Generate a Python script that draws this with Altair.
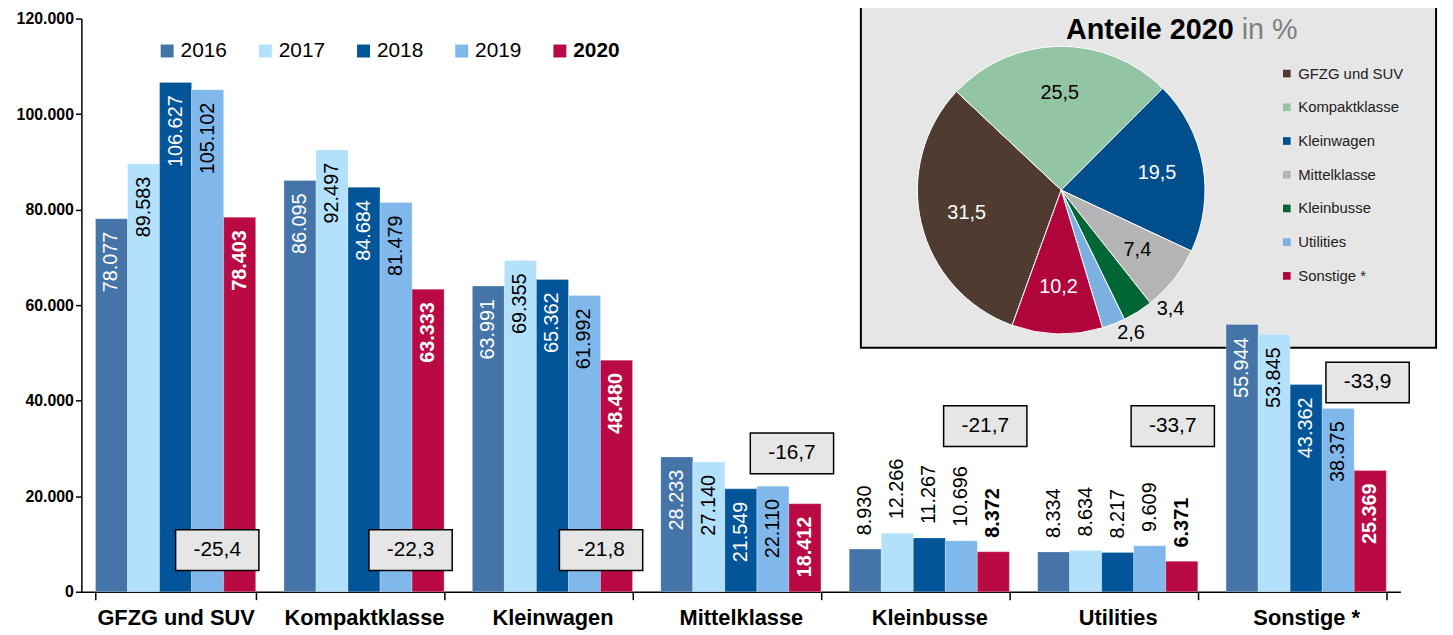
import altair as alt
import pandas as pd

FONT = "Liberation Sans"

# ---------------- data ----------------
categories = ["GFZG und SUV", "Kompaktklasse", "Kleinwagen", "Mittelklasse",
              "Kleinbusse", "Utilities", "Sonstige *"]
years = ["2016", "2017", "2018", "2019", "2020"]
v2016 = [78077, 86095, 63991, 28233, 8930, 8334, 55944]
v2017 = [89583, 92497, 69355, 27140, 12266, 8634, 53845]
v2018 = [106627, 84684, 65362, 21549, 11267, 8217, 43362]
v2019 = [105102, 81479, 61992, 22110, 10696, 9609, 38375]
v2020 = [78403, 63333, 48480, 18412, 8372, 6371, 25369]
year_colors = ["#4575A8", "#B3E0FA", "#03559A", "#80B8EC", "#BA0A44"]

changes = ["-25,4", "-22,3", "-21,8", "-16,7", "-21,7", "-33,7", "-33,9"]
# annotation box centre: category units (band i spans i..i+1) and y value
change_x = [0.721, 1.747, 2.758, 3.771, 4.797, 5.792, 6.826]
change_y = [8720, 8720, 8720, 28960, 34670, 34670, 43800]

pie_values = [31.5, 25.5, 19.5, 7.4, 3.4, 2.6, 10.2]
pie_labels = ["31,5", "25,5", "19,5", "7,4", "3,4", "2,6", "10,2"]
pie_colors = ["#4F3B30", "#93C4A4", "#004F8C", "#B4B4B4", "#006633", "#7BB0E0", "#B0063C"]

# ---------------- tables ----------------
rows = []
for yr, vals in zip(years, [v2016, v2017, v2018, v2019, v2020]):
    for c, v in zip(categories, vals):
        rows.append({"cat": c, "year": yr, "value": v,
                     "label": f"{v:,}".replace(",", ".")})
bars_df = pd.DataFrame(rows)

chg_df = pd.DataFrame({"cat": categories, "txt": changes, "bx": change_x, "by": change_y})

pie_df = pd.DataFrame({"cat": categories, "share": pie_values, "lab": pie_labels,
                       "idx": list(range(len(categories)))})

W, H = 1330, 578

x_scale = alt.Scale(paddingInner=0.15, paddingOuter=0.075)
x_axis = alt.Axis(labelFontSize=22, labelFontWeight="bold", labelColor="black",
                  labelAngle=0, labelPadding=8, tickBand="extent", tickSize=8,
                  tickColor="black", domainColor="black", domainWidth=1.5,
                  tickWidth=1.5, grid=False)
x_enc = alt.X("cat:N", sort=categories, title=None, scale=x_scale, axis=x_axis)
xo = alt.XOffset("year:N", sort=years)
y_scale = alt.Scale(domain=[0, 120000], nice=False)
y_axis = alt.Axis(values=[0, 20000, 40000, 60000, 80000, 100000, 120000],
                  labelExpr="replace(format(datum.value, ','), ',', '.')",
                  labelFontSize=16, labelFontWeight="bold", labelColor="black",
                  tickColor="black", domainColor="black", domainWidth=1.5,
                  tickWidth=1.5, tickSize=6, grid=False)
y_enc = alt.Y("value:Q", title=None, scale=y_scale, axis=y_axis)

bars = alt.Chart(bars_df).mark_bar(stroke="white", strokeWidth=0.4, strokeOpacity=0.6).encode(
    x=x_enc, xOffset=xo, y=y_enc,
    color=alt.Color("year:N", sort=years,
                    scale=alt.Scale(domain=years, range=year_colors),
                    legend=alt.Legend(orient="none", legendX=76, legendY=22,
                                      direction="horizontal", title=None,
                                      symbolType="square", symbolSize=170,
                                      symbolStrokeWidth=0, labelFontSize=21,
                                      labelColor="black", columnPadding=28,
                                      labelOffset=3,
                                      labelFontWeight=alt.ExprRef(
                                          "datum.label == '2020' ? 'bold' : 'normal'")))
)

white_test = "datum.year == '2016' || datum.year == '2018' || datum.year == '2020'"

def lab(filter_expr, align, dx, bold, color):
    return alt.Chart(bars_df).transform_filter(filter_expr).mark_text(
        angle=270, align=align, baseline="middle", dx=dx, fontSize=20,
        fontWeight="bold" if bold else "normal").encode(
        x=x_enc, xOffset=xo, y=y_enc, text="label:N", color=color)

in_color = alt.condition(white_test, alt.value("white"), alt.value("black"))
lab_in = lab("datum.value >= 15000 && datum.year != '2020'", "right", -13, False, in_color)
lab_in20 = lab("datum.value >= 15000 && datum.year == '2020'", "right", -13, True, alt.value("white"))
lab_out = lab("datum.value < 15000 && datum.year != '2020'", "left", 14, False, alt.value("black"))
lab_out20 = lab("datum.value < 15000 && datum.year == '2020'", "left", 14, True, alt.value("black"))

main = alt.layer(bars, lab_in, lab_in20, lab_out, lab_out20)

bx_scale = alt.Scale(domain=[0, 7], nice=False, zero=False)
chg_base = alt.Chart(chg_df).transform_calculate(
    x1="datum.bx - 0.221", x2="datum.bx + 0.221",
    y1="datum.by - 4250", y2="datum.by + 4250")
chg_rect = chg_base.mark_rect(fill="#E6E6E6", stroke="black", strokeWidth=1.5).encode(
    x=alt.X("x1:Q", scale=bx_scale, axis=None), x2="x2:Q",
    y=alt.Y("y1:Q", title=None, scale=y_scale, axis=y_axis), y2="y2:Q")
chg_text = chg_base.mark_text(fontSize=21, color="black").encode(
    x=alt.X("bx:Q", scale=bx_scale, axis=None),
    y=alt.Y("by:Q", title=None, scale=y_scale, axis=y_axis),
    text="txt:N")
chg = alt.layer(chg_rect, chg_text)

# ---------------- inset pie ----------------
frame = alt.Chart(pd.DataFrame({"a": [0]})).mark_rect(
    fill="#E6E6E6", stroke="black", strokeWidth=2).encode(
    x=alt.value(786), x2=alt.value(1366), y=alt.value(-14), y2=alt.value(332))

cx, cy, R = 988, 173, 145
theta_scale = alt.Scale(domain=[0, sum(pie_values)], range=[3.49, 3.49 + 6.2832])
pie_base = alt.Chart(pie_df).transform_stack(
    stack="share", groupby=[], as_=["t0", "t1"], sort=[alt.SortField("idx")]
).transform_calculate(tm="(datum.t0 + datum.t1) / 2")

pie = pie_base.mark_arc(radius=R, stroke="white", strokeWidth=1).encode(
    theta=alt.Theta("t0:Q", scale=theta_scale, stack=None), theta2="t1:Q",
    x=alt.value(cx), y=alt.value(cy),
    color=alt.Color("cat:N", sort=categories,
                    scale=alt.Scale(domain=categories, range=pie_colors),
                    legend=alt.Legend(orient="none", legendX=1208, legendY=48,
                                      direction="vertical", title=None,
                                      symbolType="square", symbolSize=60,
                                      symbolStrokeWidth=0, labelFontSize=15,
                                      labelColor="#222", rowPadding=18)))
white_pie = alt.FieldOneOfPredicate(field="cat", oneOf=["GFZG und SUV", "Kleinwagen", "Sonstige *"])

def pie_text(filt, radius, dx=0, dy=0):
    return pie_base.transform_filter(filt).mark_text(
        fontSize=20, radius=radius, dx=dx, dy=dy).encode(
        theta=alt.Theta("tm:Q", scale=theta_scale, stack=None),
        x=alt.value(cx), y=alt.value(cy), text="lab:N",
        color=alt.condition(white_pie, alt.value("white"), alt.value("black")))

pie_in = pie_text("datum.share >= 5", 98)
pie_kb = pie_text("datum.cat == 'Kleinbusse'", 160, 25, -15)
pie_ut = pie_text("datum.cat == 'Utilities'", 160, 12, -5)
pie_layer = alt.layer(pie, pie_in, pie_kb, pie_ut)

title_df = pd.DataFrame({"t1": ["Anteile 2020"], "t2": ["in %"]})
t1 = alt.Chart(title_df).mark_text(fontSize=29, fontWeight="bold", align="right",
                                   baseline="middle", color="black").encode(
    x=alt.value(1162), y=alt.value(12), text="t1:N")
t2 = alt.Chart(title_df).mark_text(fontSize=29, align="left", baseline="middle",
                                   color="#7F7F7F").encode(
    x=alt.value(1170), y=alt.value(12), text="t2:N")

chart = alt.layer(frame, main, chg, pie_layer, t1, t2).resolve_scale(
    x="independent", color="independent"
).properties(
    width=W, height=H,
    autosize=alt.AutoSizeParams(type="none"),
    padding={"left": 74, "top": 8, "right": 45, "bottom": 41},
).configure(font=FONT).configure_view(stroke=None)

chart.save("out.html", embed_options={"renderer": "svg", "actions": False})
